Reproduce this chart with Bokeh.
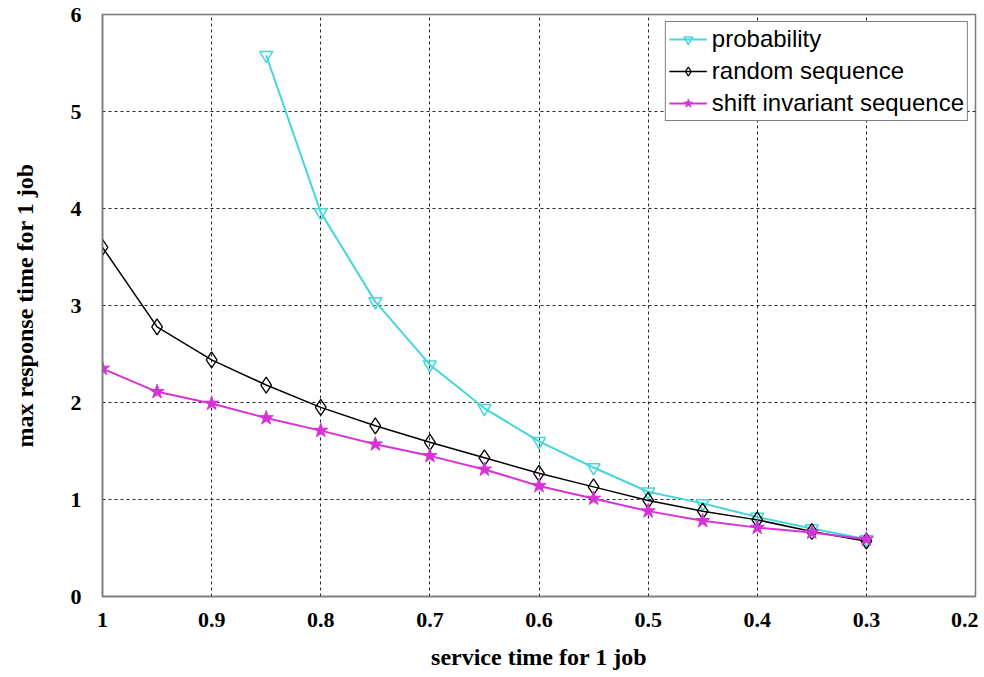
from bokeh.plotting import figure
from bokeh.models import Range1d, FixedTicker
from bokeh.embed import file_html
from bokeh.resources import INLINE

# ---- data ----
x_prob = [0.85, 0.8, 0.75, 0.7, 0.65, 0.6, 0.55, 0.5, 0.45, 0.4, 0.35, 0.3]
y_prob = [5.58, 3.96, 3.04, 2.39, 1.94, 1.60, 1.33, 1.08, 0.96, 0.82, 0.70, 0.59]

x_seq = [1.0, 0.95, 0.9, 0.85, 0.8, 0.75, 0.7, 0.65, 0.6, 0.55, 0.5, 0.45, 0.4, 0.35, 0.3]
y_random = [3.60, 2.78, 2.44, 2.18, 1.95, 1.76, 1.59, 1.43, 1.27, 1.13, 0.99, 0.88, 0.79, 0.67, 0.57]
y_shift = [2.35, 2.11, 1.99, 1.84, 1.71, 1.57, 1.45, 1.31, 1.14, 1.01, 0.88, 0.78, 0.71, 0.66, 0.59]

x_ticks = [1.0, 0.9, 0.8, 0.7, 0.6, 0.5, 0.4, 0.3, 0.2]
x_tick_labels = ["1", "0.9", "0.8", "0.7", "0.6", "0.5", "0.4", "0.3", "0.2"]
y_ticks = [0, 1, 2, 3, 4, 5, 6]
y_tick_labels = ["0", "1", "2", "3", "4", "5", "6"]

series_names = ["probability", "random sequence", "shift invariant sequence"]

CYAN = "#45d6da"
BLACK = "#000000"
MAGENTA = "#d633d6"

p = figure(width=978, height=676,
           x_range=Range1d(1.0, 0.2), y_range=Range1d(0, 6),
           output_backend="svg", toolbar_location=None,
           min_border_left=102, min_border_right=3,
           min_border_top=14, min_border_bottom=80,
           background_fill_color="white", border_fill_color="white")

# series
p.line(x_prob, y_prob, line_color=CYAN, line_width=2, legend_label=series_names[0])
p.scatter(x_prob, y_prob, marker="inverted_triangle", size=13, line_color=CYAN,
          fill_color=None, line_width=1.5, legend_label=series_names[0])

p.line(x_seq, y_random, line_color=BLACK, line_width=1.5, legend_label=series_names[1])
p.scatter(x_seq, y_random, marker="diamond", size=16, line_color=BLACK,
          fill_color=None, line_width=1.3, legend_label=series_names[1])

p.line(x_seq, y_shift, line_color=MAGENTA, line_width=2, legend_label=series_names[2])
p.scatter(x_seq, y_shift, marker="star", size=15, line_color=MAGENTA,
          fill_color=MAGENTA, line_width=1, legend_label=series_names[2])

# axes
p.xaxis.ticker = FixedTicker(ticks=x_ticks)
p.xaxis.major_label_overrides = {t: l for t, l in zip(x_ticks, x_tick_labels)}
p.yaxis.ticker = FixedTicker(ticks=y_ticks)
p.yaxis.major_label_overrides = {t: l for t, l in zip(y_ticks, y_tick_labels)}

p.xaxis.axis_label = "service time for 1 job"
p.yaxis.axis_label = "max response time for 1 job"

for ax in (p.xaxis, p.yaxis):
    ax.axis_label_text_font = "Liberation Serif"
    ax.axis_label_text_font_style = "bold"
    ax.axis_label_text_font_size = "24px"
    ax.axis_label_text_color = "black"
    ax.major_label_text_font = "Liberation Serif"
    ax.major_label_text_font_style = "bold"
    ax.major_label_text_font_size = "22px"
    ax.major_label_text_color = "black"
    ax.major_tick_in = 0
    ax.major_tick_out = 0
    ax.minor_tick_in = 0
    ax.minor_tick_out = 0
    ax.axis_line_color = "#7a7a7a"
    ax.axis_line_width = 1.5

p.yaxis.major_label_standoff = 21
p.yaxis.axis_label_standoff = 30
p.xaxis.major_label_standoff = 16
p.xaxis.axis_label_standoff = 14

# grid
p.xgrid.ticker = FixedTicker(ticks=x_ticks[1:-1])
p.ygrid.ticker = FixedTicker(ticks=y_ticks[1:-1])
for g in (p.xgrid, p.ygrid):
    g.grid_line_color = "black"
    g.grid_line_dash = "3 3"
    g.grid_line_width = 1
    g.grid_line_alpha = 0.85

p.outline_line_color = "#7a7a7a"
p.outline_line_width = 1.5

# legend
lg = p.legend[0]
lg.location = "top_right"
lg.margin = 7
lg.padding = 3
lg.spacing = 4
lg.label_text_font = "Liberation Sans"
lg.label_text_font_size = "24px"
lg.label_text_color = "black"
lg.label_standoff = 5
lg.glyph_width = 38
lg.glyph_height = 22
lg.label_height = 22
lg.border_line_color = "black"
lg.border_line_width = 1
lg.background_fill_color = "white"
lg.background_fill_alpha = 1

open("out.html", "w").write(file_html(p, INLINE))
